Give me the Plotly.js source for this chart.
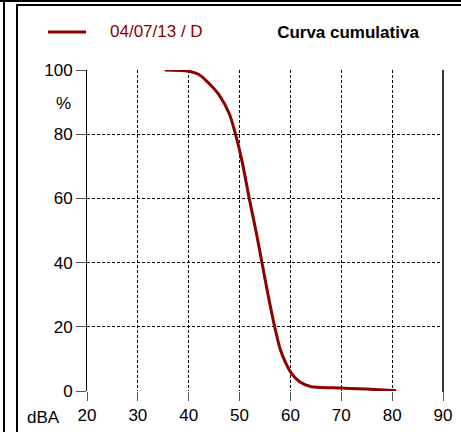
<!DOCTYPE html>
<html>
<head>
<meta charset="utf-8">
<script src="https://cdn.plot.ly/plotly-3.0.1.min.js"></script>
<style>
  html, body { margin: 0; padding: 0; background: #fff; width: 461px; height: 432px; overflow: hidden; }
  #topline { position: absolute; left: 0; top: 0; width: 461px; height: 2px; background: #000; }
  #leftpanel { position: absolute; left: 3px; top: 0; width: 2px; height: 432px; background: #000; }
  #frame { position: absolute; left: 16px; top: 4px; width: 450px; height: 440px; border-left: 2px solid #000; border-top: 2px solid #000; }
  #rightedge { position: absolute; left: 442px; top: 70px; width: 2px; height: 322px; background: #333; }
  #chart { position: absolute; left: 0; top: 0; width: 461px; height: 432px; }
</style>
</head>
<body>
<div id="chart"></div>
<div id="topline"></div>
<div id="leftpanel"></div>
<div id="frame"></div>
<div id="rightedge"></div>
<script>
// Data
const levelsDBA = [35.3, 40.0, 42.0, 44.0, 46.0, 48.0, 49.2, 50.5, 51.9, 53.2, 54.4, 55.6, 56.9, 58.0, 59.0, 60.2, 61.8, 64.1, 68.3, 74.9, 80.8];
const cumulativePct = [100, 99.6, 98.6, 95.8, 92.2, 86.3, 80.0, 71.5, 60.0, 50.0, 40.0, 30.0, 20.0, 13.0, 9.0, 5.5, 2.9, 1.3, 1.0, 0.6, 0.1];
const xTicks = [20, 30, 40, 50, 60, 70, 80, 90];
const yTicks = [0, 20, 40, 60, 80, 100];
const seriesName = '04/07/13 / D';
const chartTitle = 'Curva cumulativa';

const W = 461, H = 432;
const mL = 87, mR = 18, mT = 70, mB = 41;
const lineColor = '#8b0000';
const font = '"Liberation Sans", Arial, Helvetica, sans-serif';
const fs = 17;

const trace = {
  x: levelsDBA,
  y: cumulativePct,
  type: 'scatter',
  mode: 'lines',
  name: seriesName,
  line: { color: lineColor, width: 3, shape: 'spline', smoothing: 0.8 },
  showlegend: false,
  hoverinfo: 'skip'
};

const pw = W - mL - mR;
const ph = H - mT - mB;
const legendY = 1 + (mT - 32) / ph;
const layout = {
  width: W, height: H,
  margin: { l: mL, r: mR, t: mT, b: mB, pad: 0 },
  paper_bgcolor: '#fff',
  plot_bgcolor: '#fff',
  font: { family: font, size: fs, color: '#000' },
  title: {
    text: '<b>' + chartTitle + '</b>',
    font: { family: font, size: fs, color: '#000' },
    xref: 'container', yref: 'container',
    x: 348 / W, xanchor: 'center',
    y: 1 - 32 / H, yanchor: 'middle'
  },
  xaxis: {
    range: [20, 90],
    tickvals: xTicks,
    ticktext: xTicks.map(String),
    showgrid: true,
    gridcolor: '#000', gridwidth: 1, griddash: '3px,2px',
    zeroline: false,
    showline: false,
    ticks: 'outside', ticklen: 9, tickcolor: '#555', tickwidth: 1,
    tickfont: { family: font, size: fs, color: '#000' },
    fixedrange: true
  },
  yaxis: {
    range: [0, 100],
    tickvals: yTicks,
    ticktext: yTicks.map(String),
    showgrid: true,
    gridcolor: '#000', gridwidth: 1, griddash: '3px,2px',
    zeroline: false,
    showline: true, mirror: false, linecolor: '#000', linewidth: 1,
    ticks: 'outside', ticklen: 10, tickcolor: '#555', tickwidth: 1,
    tickfont: { family: font, size: fs, color: '#000' },
    fixedrange: true
  },
  shapes: [
    { type: 'line', xref: 'paper', yref: 'paper',
      x0: (48 - mL) / pw, x1: (86 - mL) / pw,
      y0: legendY, y1: legendY,
      line: { color: lineColor, width: 3 } }
  ],
  annotations: [
    { text: seriesName, xref: 'paper', yref: 'paper',
      x: (108 - mL) / pw, xanchor: 'left',
      y: legendY, yanchor: 'middle',
      showarrow: false, font: { family: font, size: fs, color: lineColor } },
    { text: '%', xref: 'paper', yref: 'y',
      x: 0, xshift: -14, xanchor: 'right', y: 89.7, yanchor: 'middle',
      showarrow: false, font: { family: font, size: fs, color: '#000' } },
    { text: 'dBA', xref: 'paper', yref: 'paper',
      x: (25 - mL) / pw, xanchor: 'left',
      y: -(417 - (H - mB)) / ph, yanchor: 'middle',
      showarrow: false, font: { family: font, size: fs, color: '#000' } }
  ]
};

Plotly.newPlot('chart', [trace], layout, { displayModeBar: false, staticPlot: true });
</script>
</body>
</html>
